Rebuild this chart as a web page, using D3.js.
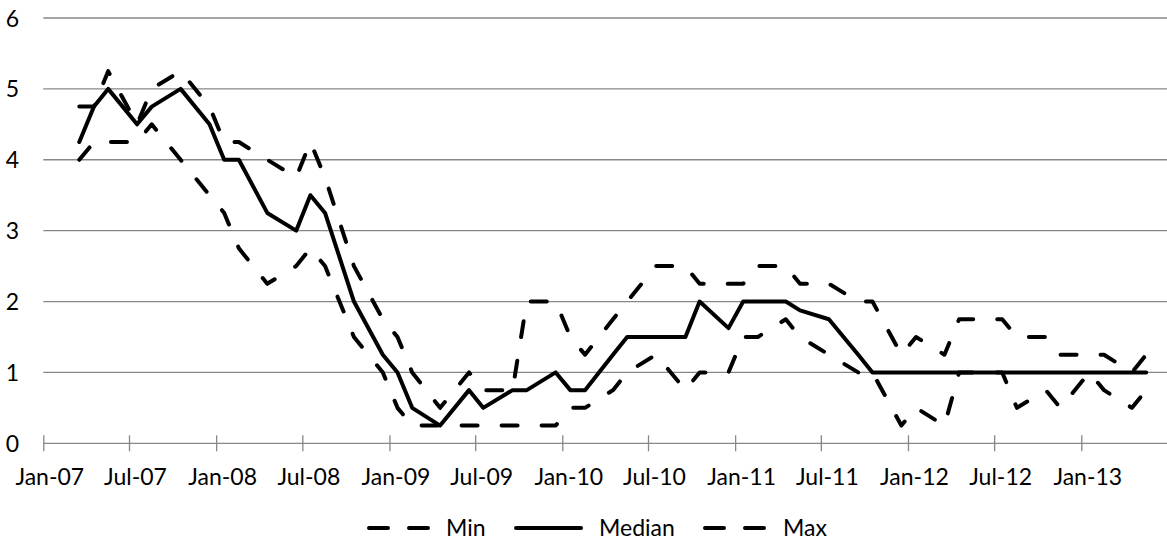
<!DOCTYPE html>
<html>
<head>
<meta charset="utf-8">
<script src="https://cdn.jsdelivr.net/npm/d3@7"></script>
<style>
  body { margin: 0; background: #fff; }
  svg text { font-family: Lato, "Open Sans", sans-serif; fill: #000; }
</style>
</head>
<body>
<svg id="chart" width="1167" height="548"></svg>
<script>
// Survey months (each survey plotted mid-month)
const surveyMonths = [
  "2007-03","2007-04","2007-05","2007-07","2007-08","2007-10","2007-12",
  "2008-01","2008-02","2008-04","2008-06","2008-07","2008-08","2008-10","2008-12",
  "2009-01","2009-02","2009-04","2009-06","2009-07","2009-09","2009-10","2009-12",
  "2010-01","2010-02","2010-04","2010-05","2010-07","2010-09","2010-10","2010-12",
  "2011-01","2011-02","2011-04","2011-05","2011-07","2011-09","2011-10","2011-12",
  "2012-01","2012-03","2012-04","2012-07","2012-08","2012-10","2012-11",
  "2013-01","2013-02","2013-04","2013-05"
];

const minValues = [
  4.0, 4.25, 4.25, 4.25, 4.5, 4.0, 3.5,
  3.25, 2.75, 2.25, 2.5, 2.75, 2.5, 1.5, 1.0,
  0.5, 0.25, 0.25, 0.25, 0.25, 0.25, 0.25, 0.25,
  0.5, 0.5, 0.75, 1.0, 1.25, 0.75, 1.0, 1.0,
  1.5, 1.5, 1.75, 1.5, 1.25, 1.0, 1.0, 0.25,
  0.5, 0.25, 1.0, 1.0, 0.5, 0.75, 0.5,
  1.0, 0.75, 0.5, 0.75
];

const medianValues = [
  4.25, 4.75, 5.0, 4.5, 4.75, 5.0, 4.5,
  4.0, 4.0, 3.25, 3.0, 3.5, 3.25, 2.0, 1.25,
  1.0, 0.5, 0.25, 0.75, 0.5, 0.75, 0.75, 1.0,
  0.75, 0.75, 1.25, 1.5, 1.5, 1.5, 2.0, 1.625,
  2.0, 2.0, 2.0, 1.875, 1.75, 1.25, 1.0, 1.0,
  1.0, 1.0, 1.0, 1.0, 1.0, 1.0, 1.0,
  1.0, 1.0, 1.0, 1.0
];

const maxValues = [
  4.75, 4.75, 5.25, 4.5, 5.0, 5.25, 4.75,
  4.25, 4.25, 4.0, 3.75, 4.25, 3.75, 2.5, 1.75,
  1.5, 1.0, 0.5, 1.0, 0.75, 0.75, 2.0, 2.0,
  1.5, 1.25, 1.75, 2.0, 2.5, 2.5, 2.25, 2.25,
  2.25, 2.5, 2.5, 2.25, 2.25, 2.0, 2.0, 1.25,
  1.5, 1.25, 1.75, 1.75, 1.5, 1.5, 1.25,
  1.25, 1.25, 1.0, 1.25
];

const seriesNames = ["Min", "Median", "Max"];
const yTickValues = [0, 1, 2, 3, 4, 5, 6];
const xTickLabels = ["Jan-07","Jul-07","Jan-08","Jul-08","Jan-09","Jul-09","Jan-10",
                     "Jul-10","Jan-11","Jul-11","Jan-12","Jul-12","Jan-13"];

const svg = d3.select("#chart");
const plot = { left: 43.3, right: 1167, top: 18, bottom: 443.3 };
const fontStack = "Lato, 'Open Sans', sans-serif";

const parseTick = d3.utcParse("%b-%y");
const monthDate = s => {
  const [yr, m] = s.split("-").map(Number);
  return new Date(Date.UTC(yr, m - 1, 18));
};

const x = d3.scaleUtc()
  .domain([new Date(Date.UTC(2007, 0, 1)), new Date(Date.UTC(2013, 6, 1))])
  .range([plot.left, plot.right]);
const y = d3.scaleLinear().domain([0, 6]).range([plot.bottom, plot.top]);

const gridColor = "#878787";

// horizontal gridlines
svg.append("g")
  .selectAll("line")
  .data(yTickValues.filter(v => v > 0))
  .join("line")
  .attr("x1", plot.left).attr("x2", plot.right)
  .attr("y1", d => y(d)).attr("y2", d => y(d))
  .attr("stroke", gridColor).attr("stroke-width", 1.3);

// y-axis labels
const yAxis = d3.axisLeft(y).tickValues(yTickValues).tickFormat(d3.format("d"))
  .tickSize(0).tickPadding(0);
const yg = svg.append("g").attr("transform", "translate(19,0)").call(yAxis);
yg.select(".domain").remove();
yg.selectAll("text")
  .attr("font-size", 23).attr("font-family", fontStack)
  .attr("fill", "#000").attr("text-anchor", "end").attr("dy", "0.35em").attr("x", 0);

// x axis with crossing tick marks
const xTicks = xTickLabels.map(parseTick);
const xAxis = d3.axisBottom(x).tickValues(xTicks).tickFormat(d3.utcFormat("%b-%y"))
  .tickSize(8).tickPadding(0);
const xg = svg.append("g").attr("transform", `translate(0,${plot.bottom})`).call(xAxis);
xg.select(".domain")
  .attr("d", `M${plot.left},0H${plot.right}`)
  .attr("stroke", gridColor).attr("stroke-width", 1.3);
xg.selectAll(".tick line")
  .attr("y1", -8).attr("y2", 8)
  .attr("stroke", gridColor).attr("stroke-width", 1.3);
xg.selectAll(".tick text")
  .attr("font-size", 23).attr("font-family", fontStack)
  .attr("fill", "#000").attr("x", 6).attr("y", 42).attr("dy", null);

// series lines
const dates = surveyMonths.map(monthDate);
const seriesValues = [minValues, medianValues, maxValues];
const dashed = [true, false, true];
const line = d3.line().x(d => x(d.date)).y(d => y(d.value));

seriesValues.forEach((vals, i) => {
  const pts = vals.map((v, j) => ({ date: dates[j], value: v }));
  svg.append("path")
    .datum(pts)
    .attr("d", line)
    .attr("fill", "none")
    .attr("stroke", "#000")
    .attr("stroke-width", 4)
    .attr("stroke-linejoin", "round")
    .attr("stroke-linecap", "round")
    .attr("stroke-dasharray", dashed[i] ? "16 24" : null);
});

// legend
const legendY = 528;
const legendItems = [
  { name: seriesNames[0], x0: 369, x1: 428, textX: 446, dash: true },
  { name: seriesNames[1], x0: 516, x1: 581, textX: 599, dash: false },
  { name: seriesNames[2], x0: 705, x1: 764, textX: 783, dash: true }
];
const lg = svg.append("g");
legendItems.forEach(it => {
  lg.append("line")
    .attr("x1", it.x0).attr("x2", it.x1)
    .attr("y1", legendY).attr("y2", legendY)
    .attr("stroke", "#000").attr("stroke-width", 4)
    .attr("stroke-linecap", "round")
    .attr("stroke-dasharray", it.dash ? "19 21" : null);
  lg.append("text")
    .attr("x", it.textX).attr("y", legendY).attr("dy", "0.35em")
    .attr("font-size", 23)
    .text(it.name);
});
</script>
</body>
</html>
